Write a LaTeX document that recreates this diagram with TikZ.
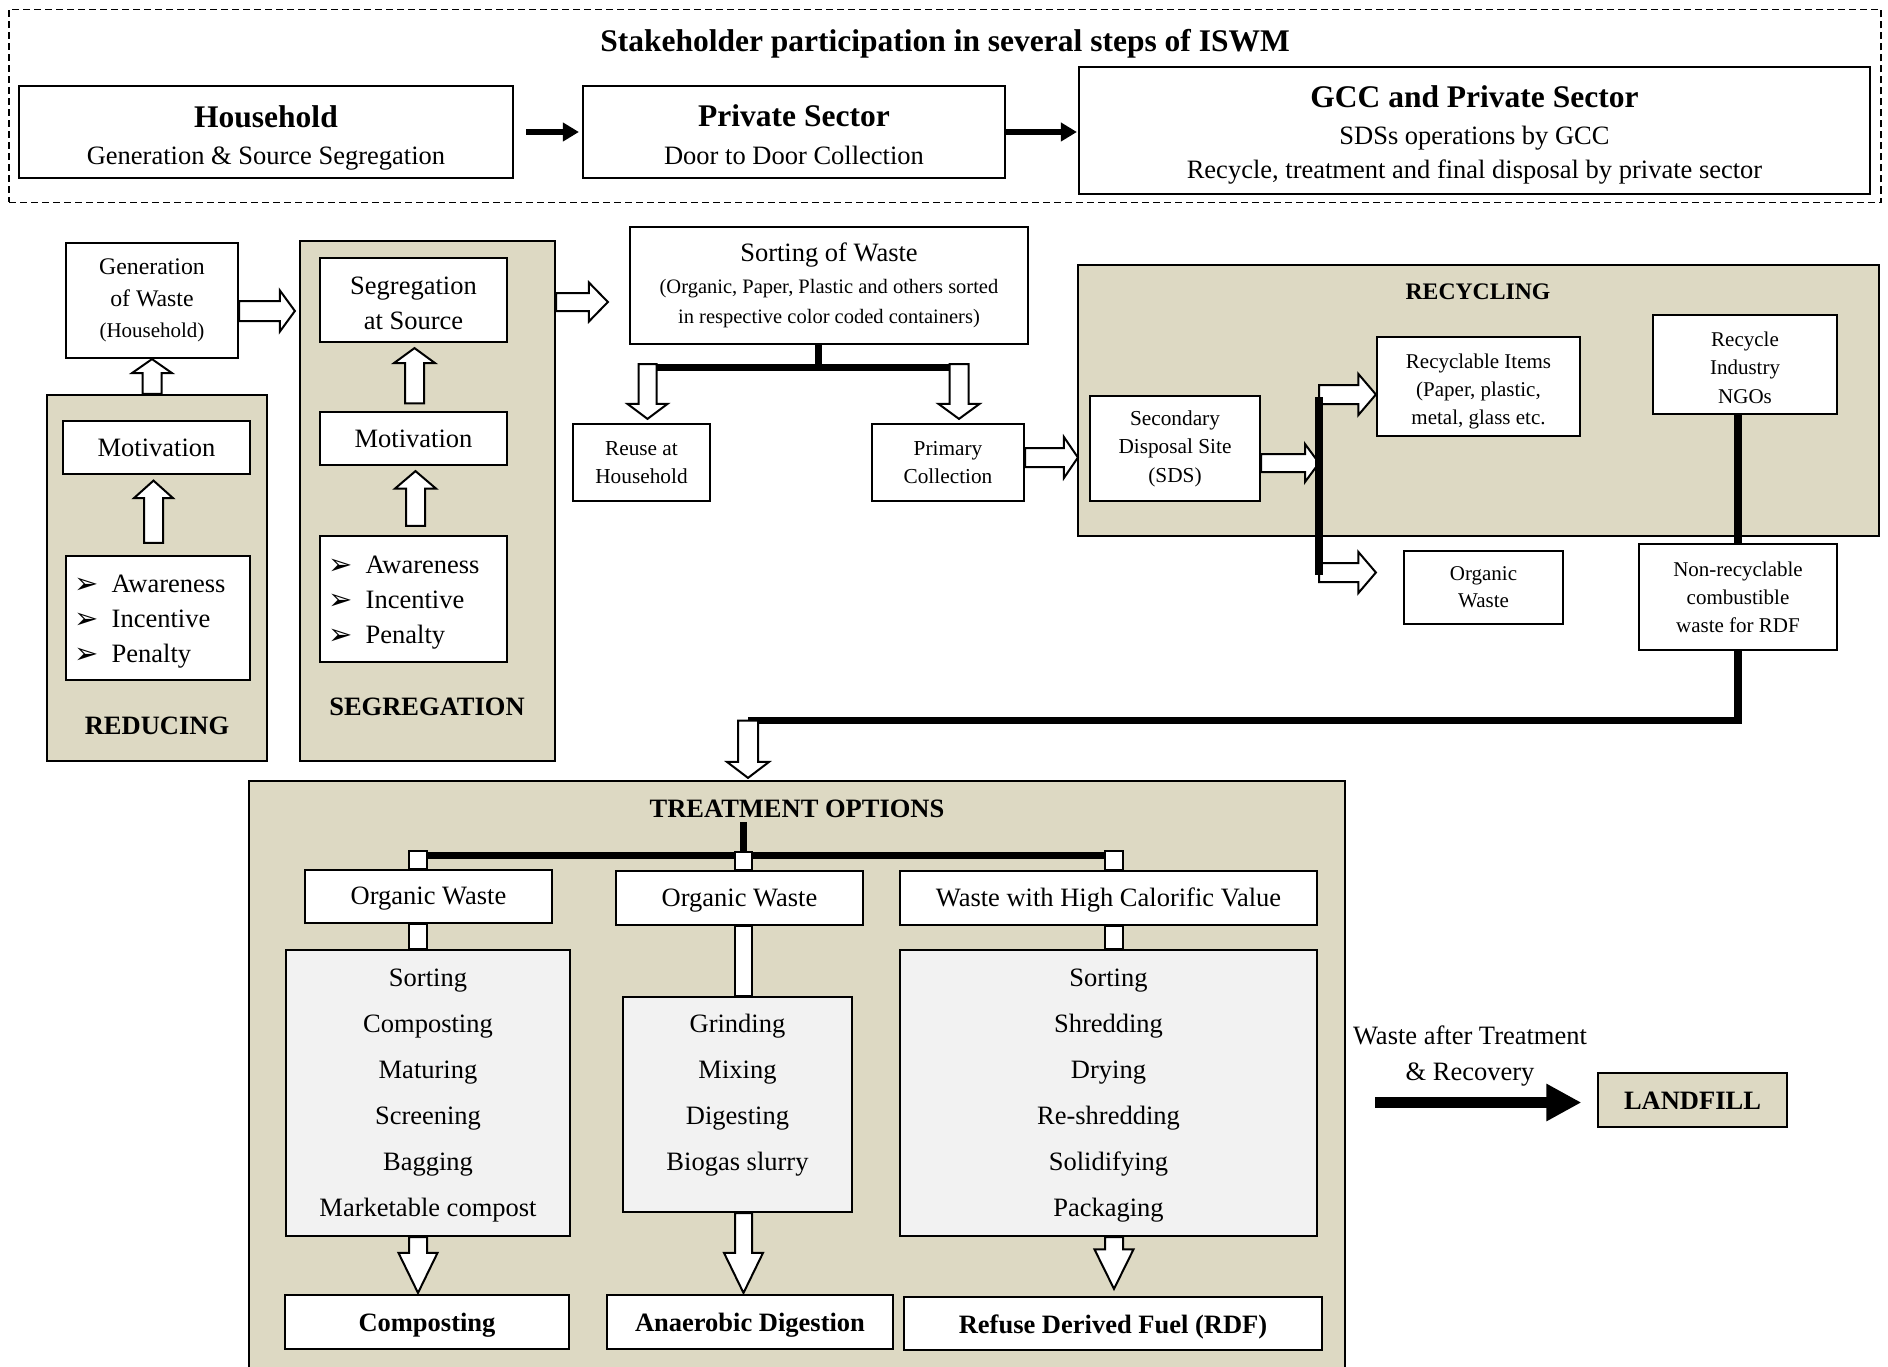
\documentclass[tikz,border=0pt]{standalone}
\usepackage{fontspec}
\setmainfont{Liberation Serif}
\newfontfamily\dejavu{DejaVu Sans}
\usetikzlibrary{calc,arrows.meta}

\definecolor{tanfill}{HTML}{DDD9C3}
\definecolor{procgray}{HTML}{F2F2F2}

\newcommand{\fsz}[2]{\fontsize{#1}{#2}\selectfont}
% strut that sets the height of a first line
\newcommand{\firstline}[1]{\rule{0pt}{#1pt}}
\newcommand{\bul}{\makebox[37.6pt][l]{\dejavu\fsz{29}{29}\raisebox{-1.5pt}{➢}}}

\tikzset{
  box/.style={draw, line width=2.2pt, fill=white, inner sep=0pt, align=center},
  tanbox/.style={box, fill=tanfill},
  procbox/.style={box, fill=procgray},
  hollow/.style={draw, fill=white, line width=2pt, line join=miter},
  bar/.style={line width=7pt},
  stub/.style={draw, fill=white, line width=1.8pt},
  body/.style={font=\fsz{26.5}{35}},
  small/.style={font=\fsz{21.3}{28.5}},
  heading/.style={font=\bfseries\fsz{26.5}{32}},
  solidarrow/.style={line width=6pt, -{Triangle[length=16pt,width=18pt]}},
}

% hollow block arrow: from, to, shaft half-width, head half-width, head length
\newcommand{\blockarrow}[5]{%
  \coordinate (ba-s) at (#1);
  \coordinate (ba-e) at (#2);
  \coordinate (ba-h) at ($(ba-e)!#5!(ba-s)$);
  \draw[hollow] ($(ba-s)!#3!90:(ba-e)$) -- ($(ba-h)!#3!90:(ba-e)$)
    -- ($(ba-h)!#4!90:(ba-e)$) -- (ba-e)
    -- ($(ba-h)!#4!-90:(ba-e)$) -- ($(ba-h)!#3!-90:(ba-e)$)
    -- ($(ba-s)!#3!-90:(ba-e)$) -- cycle;
}

\begin{document}
\begin{tikzpicture}[x=1pt,y=-1pt]
\path[use as bounding box] (0,0) rectangle (1888,1367);
\clip (0,0) rectangle (1888,1367);

% ---------- stakeholder strip ----------
\node[draw, dash pattern=on 7pt off 4pt, line width=1.6pt, inner sep=0pt,
      minimum width=1872pt, minimum height=193pt] (stake) at (945,106) {};
\node[font=\bfseries\fsz{31.5}{36}] (title) at (945,43.5)
  {Stakeholder participation in several steps of ISWM};

\node[box, font=\fsz{26.5}{37.1}, minimum width=494pt, minimum height=92pt] (hh) at (266,132)
  {{\bfseries\fsz{31.5}{37.1}\firstline{33.4}Household}\\Generation \& Source Segregation};
\node[box, font=\fsz{26.5}{38}, minimum width=422pt, minimum height=92pt] (ps) at (794,132)
  {{\bfseries\fsz{31.5}{38}\firstline{27.5}Private Sector}\\Door to Door Collection};
\node[box, font=\fsz{26.5}{37}, minimum width=791pt, minimum height=127pt] (gcc) at (1474.5,130.5)
  {{\bfseries\fsz{31.5}{37}\firstline{31}GCC and Private Sector}\\SDSs operations by GCC\\[-2.4pt]
   Recycle, treatment and final disposal by private sector};

\draw[solidarrow, shorten <=12pt, shorten >=3pt] (hh.east) -- (ps.west);
\draw[solidarrow, shorten >=1pt] (ps.east) -- (ps.east -| gcc.west);

% ---------- frames ----------
\node[tanbox, minimum width=220pt, minimum height=366pt] (red) at (157,578) {};
\node[tanbox, minimum width=255pt, minimum height=520pt] (seg) at (427.5,501) {};
\node[tanbox, minimum width=801pt, minimum height=271pt] (rec) at (1478.5,400.5) {};
\node[tanbox, minimum width=1096pt, minimum height=594pt] (trt) at (797,1078) {};

% ---------- reducing ----------
\node[box, font=\fsz{23.8}{31.5}, minimum width=172pt, minimum height=115pt] (gen) at (152,300.5)
  {Generation\\of Waste\\{\fsz{21}{31.5}(Household)}};
\node[box, body, minimum width=187pt, minimum height=53pt] (mot1) at (156.5,447.5) {Motivation};
\node[box, minimum width=184pt, minimum height=124pt] (bul1) at (158,618) {};
\node[body, align=left, anchor=west, inner sep=0pt] (bul1t) at ($(bul1.west)+(9,3.6)$)
  {\bul Awareness\\\bul Incentive\\\bul Penalty};
\node[heading] (redlab) at (157,726) {REDUCING};

% ---------- segregation ----------
\node[box, body, minimum width=187pt, minimum height=84pt] (segsrc) at (413.5,300)
  {\firstline{25.1}Segregation\\at Source};
\node[box, body, minimum width=187pt, minimum height=53pt] (mot2) at (413.5,438.5) {Motivation};
\node[box, minimum width=187pt, minimum height=126pt] (bul2) at (413.5,599) {};
\node[body, align=left, anchor=west, inner sep=0pt] (bul2t) at ($(bul2.west)+(9,3.6)$)
  {\bul Awareness\\\bul Incentive\\\bul Penalty};
\node[heading] (seglab) at (427,707) {SEGREGATION};

\blockarrow{gen.south |- red.north}{gen.south}{9.5pt}{20pt}{14pt}
\blockarrow{$(bul1.north)+(-4.5,-12)$}{$(mot1.south)+(-3,5.5)$}{9.5pt}{19.5pt}{17.5pt}
\blockarrow{$(mot2.north)+(1,-7.5)$}{$(segsrc.south)+(1,5)$}{9.5pt}{20.5pt}{15pt}
\blockarrow{$(bul2.north)+(2,-9)$}{$(mot2.south)+(2,5)$}{9.5pt}{20.5pt}{17.5pt}
\blockarrow{$(gen.east)+(0,10.5)$}{$(gen.east -| seg.west)+(-4,10.5)$}{10pt}{20.5pt}{15pt}

% ---------- sorting ----------
\node[box, font=\fsz{20.5}{30}, minimum width=398pt, minimum height=117pt] (sort) at (829,285.5)
  {{\fsz{26.5}{30}Sorting of Waste}\\[2pt](Organic, Paper, Plastic and others sorted\\
   in respective color coded containers)};
\blockarrow{$(seg.east |- sort.center)+(0,16.5)$}{$(sort.west)+(-21,16.5)$}{9pt}{19.5pt}{19pt}

\node[box, small, font=\fsz{21.3}{28}, minimum width=137pt, minimum height=77pt] (reuse) at (641.5,462.5)
  {Reuse at\\Household};
\node[box, small, font=\fsz{21.3}{28}, minimum width=152pt, minimum height=77pt] (prim) at (948,462.5)
  {Primary\\Collection};

\coordinate (sj) at ($(sort.south)+(-11,22.5)$);
\coordinate (ra) at ($(reuse.north)+(6,-4)$);
\coordinate (pa) at ($(prim.north)+(11,-4)$);
\draw[bar] (sort.south -| sj) -- (sj);
\draw[bar] (ra |- sj) -- (pa |- sj);
\blockarrow{$(ra |- sj)+(0,-3.5)$}{ra}{9pt}{20pt}{15pt}
\blockarrow{$(pa |- sj)+(0,-3.5)$}{pa}{9.5pt}{20.5pt}{15pt}

\blockarrow{$(prim.east)+(0,-5)$}{$(prim.east -| rec.west)+(1,-5)$}{9.5pt}{20.5pt}{14pt}

% ---------- recycling ----------
\node[font=\bfseries\fsz{23.7}{28}] (reclab) at (1478,292) {RECYCLING};
\node[box, small, minimum width=170pt, minimum height=105pt] (sds) at (1175,448.5)
  {Secondary\\Disposal Site\\(SDS)};
\node[box, font=\fsz{21}{28}, minimum width=203pt, minimum height=99pt] (ritems) at (1478.5,386.5)
  {\firstline{24.3}Recyclable Items\\(Paper, plastic,\\metal, glass etc.};
\node[box, font=\fsz{21}{28.5}, minimum width=184pt, minimum height=99pt] (ngo) at (1745,364.5)
  {\firstline{20.3}Recycle\\Industry\\NGOs};
\node[box, font=\fsz{21}{27}, minimum width=159pt, minimum height=73pt] (ogw) at (1483.5,587.5)
  {Organic\\Waste};
\node[box, font=\fsz{21}{28}, minimum width=198pt, minimum height=106pt] (nrec) at (1738,597)
  {Non-recyclable\\combustible\\waste for RDF};

\coordinate (vbtop) at (1319,397);
\coordinate (vbbot) at (1319,575);
\blockarrow{$(sds.east)+(0,14.5)$}{$(sds.east -| vbtop)+(0,14.5)$}{9pt}{19pt}{14pt}
\blockarrow{$(ritems.west -| vbtop)+(0,8)$}{$(ritems.west)+(0,8)$}{9.5pt}{20.5pt}{17.5pt}
\blockarrow{$(ogw.west -| vbtop)+(0,-15)$}{$(ogw.west)+(-27,-15)$}{9.5pt}{20.5pt}{17.5pt}
\draw[line width=8pt] (vbtop) -- (vbbot);
\draw[bar, line width=7.5pt] (ngo.south -| nrec.north) -- (nrec.north);

% ---------- to treatment ----------
\coordinate (drop) at (748,720.5);
\draw[bar, line width=7.5pt] (nrec.south) |- (drop);
\blockarrow{$(drop)+(0,0)$}{$(drop |- trt.north)+(0,-2)$}{10pt}{21pt}{16pt}

% ---------- treatment options ----------
\node[heading] (trtlab) at (797,809) {TREATMENT OPTIONS};
\coordinate (colA) at (418,855);
\coordinate (colB) at (743.5,855);
\coordinate (colC) at (1114,855);
\draw[bar] ($(colB)+(0,-33)$) -- (colB);
\draw[bar] (colA) -- (colC);

\node[box, body, minimum width=247pt, minimum height=53pt] (ow1) at (428.5,896.5)
  {\firstline{22.7}Organic Waste};
\node[box, body, minimum width=247pt, minimum height=54pt] (ow2) at (739.5,898)
  {\firstline{22.7}Organic Waste};
\node[box, body, minimum width=417pt, minimum height=54pt] (hcv) at (1108.5,898)
  {\firstline{22.9}Waste with High Calorific Value};

\draw[stub] ($(colA)+(-9,-4)$) rectangle ($(colA |- ow1.north)+(9,0)$);
\draw[stub] ($(colB)+(-8.5,-3)$) rectangle ($(colB |- ow2.north)+(8.5,0)$);
\draw[stub] ($(colC)+(-9,-4)$) rectangle ($(colC |- hcv.north)+(9,0)$);

\node[procbox, font=\fsz{26.5}{45.9}, minimum width=284pt, minimum height=286pt] (pA) at (428,1093)
  {\firstline{22.7}Sorting\\Composting\\Maturing\\Screening\\Bagging\\Marketable compost};
\node[procbox, minimum width=229pt, minimum height=215pt] (pB) at (737.5,1104.5) {};
\node[font=\fsz{26.5}{45.9}, align=center] (pBt) at (737.5,1095.4)
  {Grinding\\Mixing\\Digesting\\Biogas slurry};
\node[procbox, font=\fsz{26.5}{45.9}, minimum width=417pt, minimum height=286pt] (pC) at (1108.5,1093)
  {\firstline{22.7}Sorting\\Shredding\\Drying\\Re-shredding\\Solidifying\\Packaging};

\draw[stub] ($(colA |- ow1.south)+(-9,0)$) rectangle ($(colA |- pA.north)+(9,0)$);
\draw[stub] ($(colB |- ow2.south)+(-8.5,0)$) rectangle ($(colB |- pB.north)+(8.5,0)$);
\draw[stub] ($(colC |- hcv.south)+(-9,0)$) rectangle ($(colC |- pC.north)+(9,0)$);

\node[box, heading, minimum width=284pt, minimum height=54pt] (comp) at (427,1322)
  {\firstline{25.1}Composting};
\node[box, heading, minimum width=286pt, minimum height=54pt] (ad) at (750,1322)
  {\firstline{25.1}Anaerobic Digestion};
\node[box, heading, minimum width=418pt, minimum height=53pt] (rdf) at (1113,1323.5)
  {\firstline{25.5}Refuse Derived Fuel (RDF)};

\blockarrow{colA |- pA.south}{$(colA |- comp.north)+(0,-1)$}{9pt}{19.5pt}{40pt}
\blockarrow{colB |- pB.south}{$(colB |- ad.north)+(0,-1)$}{8.5pt}{19.5pt}{40pt}
\blockarrow{colC |- pC.south}{$(colC |- rdf.north)+(0,-7)$}{9pt}{19.5pt}{39.5pt}

% ---------- landfill ----------
\node[tanbox, heading, minimum width=189pt, minimum height=54pt] (landfill) at (1692.5,1100)
  {\firstline{19}LANDFILL};
\node[font=\fsz{26.5}{36}, align=center] (wat) at (1470,1056) {Waste after Treatment\\\& Recovery};
\coordinate (wstart) at (1375,1102.5);
\draw[line width=11pt, -{Triangle[length=35pt,width=35pt]}] (wstart) -- ($(wstart -| landfill.west)+(-15.5,0)$);

\end{tikzpicture}
\end{document}
